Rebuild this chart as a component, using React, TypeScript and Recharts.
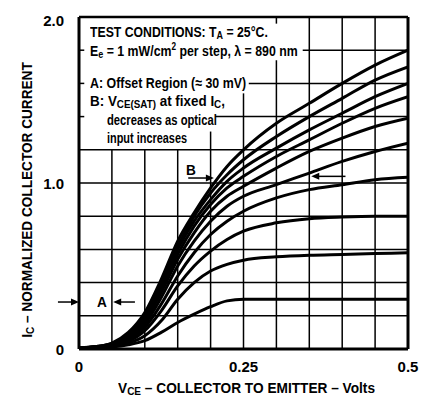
import { useLayoutEffect, useRef, useState } from 'react';
import { LineChart, Line, XAxis, YAxis, ReferenceLine, ReferenceDot } from 'recharts';

const FONT = "'Liberation Sans', Arial, sans-serif";

// VCE in volts
const vce = [0, 0.025, 0.05, 0.075, 0.1, 0.125, 0.15, 0.175, 0.2, 0.225, 0.25, 0.3, 0.35, 0.4, 0.45, 0.5];

// normalized IC, one curve per 1 mW/cm2 step
const step1 = [0.005, 0.007, 0.012, 0.025, 0.05, 0.1, 0.16, 0.21, 0.255, 0.29, 0.3, 0.3, 0.3, 0.3, 0.3, 0.3];
const step2 = [0.005, 0.008, 0.015, 0.035, 0.08, 0.17, 0.3, 0.4, 0.47, 0.51, 0.535, 0.555, 0.565, 0.57, 0.575, 0.58];
const step3 = [0.005, 0.009, 0.018, 0.045, 0.11, 0.23, 0.38, 0.5, 0.59, 0.66, 0.71, 0.76, 0.785, 0.795, 0.8, 0.8];
const step4 = [0.005, 0.01, 0.02, 0.055, 0.13, 0.27, 0.44, 0.58, 0.69, 0.77, 0.83, 0.91, 0.96, 0.99, 1.02, 1.035];
const step5 = [0.005, 0.01, 0.022, 0.06, 0.15, 0.31, 0.5, 0.65, 0.77, 0.86, 0.92, 0.99, 1.06, 1.13, 1.19, 1.24];
const step6 = [0.005, 0.011, 0.025, 0.07, 0.17, 0.34, 0.54, 0.7, 0.83, 0.92, 0.98, 1.09, 1.19, 1.27, 1.34, 1.39];
const step7 = [0.006, 0.012, 0.028, 0.075, 0.18, 0.36, 0.57, 0.74, 0.87, 0.97, 1.04, 1.16, 1.26, 1.36, 1.45, 1.52];
const step8 = [0.006, 0.013, 0.03, 0.08, 0.19, 0.38, 0.6, 0.77, 0.9, 1.01, 1.09, 1.21, 1.32, 1.42, 1.52, 1.6];
const step9 = [0.007, 0.014, 0.033, 0.09, 0.2, 0.4, 0.62, 0.8, 0.94, 1.05, 1.14, 1.28, 1.4, 1.51, 1.62, 1.7];
const step10 = [0.008, 0.015, 0.036, 0.1, 0.22, 0.42, 0.65, 0.82, 0.97, 1.1, 1.2, 1.36, 1.48, 1.6, 1.71, 1.8];

const steps = [step1, step2, step3, step4, step5, step6, step7, step8, step9, step10];

const xTicks = [0, 0.25, 0.5];
const yTicks = [0, 1, 2];
const xGrid = [0.05, 0.1, 0.15, 0.2, 0.25, 0.3, 0.35, 0.4, 0.45];
const yGrid = [0.2, 0.4, 0.6, 0.8, 1.0, 1.2, 1.4, 1.6, 1.8];

// the notes box hides the upper left part of the grid
const xGridTop = [1.2, 1.2, 1.2, 1.31, 1.54, 1.74, 2, 2, 2];
const yGridStart = [0, 0, 0, 0, 0, 0, 0.207, 0.258, 0.34];

const data = vce.map((v, i) => {
  const row: Record<string, number> = { v };
  steps.forEach((s, k) => {
    row['s' + k] = s[i];
  });
  return row;
});

const txt = { fontFamily: FONT, fontWeight: 700, fill: '#000', fontSize: 15 };

const XTick = ({ x, y, payload }: any) => (
  <text x={x} y={y} dy={23} textAnchor="middle" style={txt}>
    {String(payload.value)}
  </text>
);

const YTick = ({ x, y, payload }: any) => (
  <text x={x - 15} y={y} dy={payload.value === 2 ? 9 : 6} textAnchor="end" style={txt}>
    {payload.value === 0 ? '0' : payload.value.toFixed(1)}
  </text>
);

const arrow = (dir: 1 | -1) => (p: any) => (
  <path
    d={`M${p.cx},${p.cy} L${p.cx - dir * 8},${p.cy - 3.5} L${p.cx - dir * 8},${p.cy + 3.5} Z`}
    fill="#000"
  />
);

// condensed bold text squeezed to the width it has in the scan
function Fit({
  left,
  cy,
  width,
  rotate = false,
  children,
}: {
  left: number;
  cy: number;
  width: number;
  rotate?: boolean;
  children: any;
}) {
  const ref = useRef<HTMLDivElement>(null);
  const [k, setK] = useState(1);
  useLayoutEffect(() => {
    if (ref.current) setK(width / ref.current.scrollWidth);
  }, [width]);
  return (
    <div
      ref={ref}
      style={{
        position: 'absolute',
        left,
        top: rotate ? cy : cy - 7,
        fontFamily: FONT,
        fontWeight: 700,
        fontSize: 15,
        lineHeight: '14px',
        whiteSpace: 'nowrap',
        color: '#000',
        transform: rotate
          ? `translate(-50%, -50%) rotate(-90deg) scaleX(${k})`
          : `scaleX(${k})`,
        transformOrigin: rotate ? '50% 50%' : '0 50%',
      }}
    >
      {children}
    </div>
  );
}

const sub = { fontSize: 11, verticalAlign: '-2px', lineHeight: 0 };

export default function App() {
  return (
    <div style={{ position: 'relative', width: 435, height: 400, background: '#fff', overflow: 'hidden' }}>
      <style>{'body{margin:0}'}</style>
      <LineChart
        width={435}
        height={400}
        data={data}
        margin={{ top: 17, right: 27, bottom: 21, left: 0 }}
      >
        <XAxis
          type="number"
          dataKey="v"
          domain={[0, 0.5]}
          ticks={xTicks}
          axisLine={false}
          tickLine={false}
          tickSize={0}
          tickMargin={0}
          height={30}
          tick={<XTick />}
          allowDataOverflow
        />
        <YAxis
          type="number"
          domain={[0, 2]}
          ticks={yTicks}
          axisLine={false}
          tickLine={false}
          tickSize={0}
          tickMargin={0}
          width={79}
          tick={<YTick />}
          allowDataOverflow
        />

        {xGrid.map((g, i) => (
          <ReferenceLine
            key={'vx' + g}
            segment={[{ x: g, y: 0 }, { x: g, y: xGridTop[i] }]}
            stroke="#000"
            strokeWidth={1.5}
            ifOverflow="visible"
          />
        ))}
        {yGrid.map((g, i) => (
          <ReferenceLine
            key={'hy' + g}
            segment={[{ x: yGridStart[i], y: g }, { x: 0.5, y: g }]}
            stroke="#000"
            strokeWidth={1.5}
            ifOverflow="visible"
          />
        ))}
        {yGrid.slice(6).map((g) => (
          <ReferenceLine
            key={'stub' + g}
            segment={[{ x: 0, y: g }, { x: 0.008, y: g }]}
            stroke="#000"
            strokeWidth={1.5}
            ifOverflow="visible"
          />
        ))}
        <ReferenceLine
          segment={[{ x: 0.3, y: 2 }, { x: 0.3, y: 1.96 }]}
          stroke="#000"
          strokeWidth={1.5}
          ifOverflow="visible"
        />

        {/* frame */}
        <ReferenceLine x={0} stroke="#000" strokeWidth={3} ifOverflow="visible" />
        <ReferenceLine x={0.5} stroke="#000" strokeWidth={3} ifOverflow="visible" />
        <ReferenceLine y={0} stroke="#000" strokeWidth={3} ifOverflow="visible" />
        <ReferenceLine y={2} stroke="#000" strokeWidth={2.5} ifOverflow="visible" />

        {steps.map((_, k) => (
          <Line
            key={k}
            type="monotone"
            dataKey={'s' + k}
            stroke="#000"
            strokeWidth={3}
            dot={false}
            isAnimationActive={false}
          />
        ))}

        {/* A: offset region arrows */}
        <ReferenceLine
          segment={[{ x: -0.032, y: 0.283 }, { x: -0.004, y: 0.283 }]}
          stroke="#000"
          strokeWidth={1.5}
          ifOverflow="visible"
        />
        <ReferenceDot x={0} y={0.283} r={0} shape={arrow(1)} ifOverflow="visible" />
        <ReferenceLine
          segment={[{ x: 0.085, y: 0.283 }, { x: 0.056, y: 0.283 }]}
          stroke="#000"
          strokeWidth={1.5}
          ifOverflow="visible"
        />
        <ReferenceDot x={0.052} y={0.283} r={0} shape={arrow(-1)} ifOverflow="visible" />

        {/* B: VCE(SAT) arrows */}
        <ReferenceLine
          segment={[{ x: 0.166, y: 1.03 }, { x: 0.2, y: 1.03 }]}
          stroke="#000"
          strokeWidth={1.5}
          ifOverflow="visible"
        />
        <ReferenceDot x={0.205} y={1.03} r={0} shape={arrow(1)} ifOverflow="visible" />
        <ReferenceLine
          segment={[{ x: 0.405, y: 1.04 }, { x: 0.358, y: 1.04 }]}
          stroke="#000"
          strokeWidth={1.5}
          ifOverflow="visible"
        />
        <ReferenceDot x={0.353} y={1.04} r={0} shape={arrow(-1)} ifOverflow="visible" />
      </LineChart>

      <Fit left={90} cy={32} width={178}>
        TEST CONDITIONS: T<span style={sub}>A</span> = 25°C.
      </Fit>
      <Fit left={90} cy={50.5} width={208}>
        E<span style={sub}>e</span> = 1 mW/cm<sup style={{ fontSize: 10, lineHeight: 0 }}>2</sup> per step, λ = 890 nm
      </Fit>
      <Fit left={90} cy={82.5} width={156}>
        A: Offset Region (≈ 30 mV)
      </Fit>
      <Fit left={90} cy={101} width={135}>
        B: V<span style={sub}>CE(SAT)</span> at fixed I<span style={sub}>C</span>,
      </Fit>
      <Fit left={107} cy={119.5} width={110}>
        decreases as optical
      </Fit>
      <Fit left={107} cy={138} width={80}>
        input increases
      </Fit>
      <Fit left={97} cy={302} width={10}>
        A
      </Fit>
      <Fit left={186} cy={170} width={10}>
        B
      </Fit>

      {/* axis titles */}
      <Fit left={118} cy={388} width={257}>
        V<span style={sub}>CE</span> – COLLECTOR TO EMITTER – Volts
      </Fit>
      <Fit left={27} cy={200} width={276} rotate>
        I<span style={sub}>C</span> – NORMALIZED COLLECTOR CURRENT
      </Fit>
    </div>
  );
}
